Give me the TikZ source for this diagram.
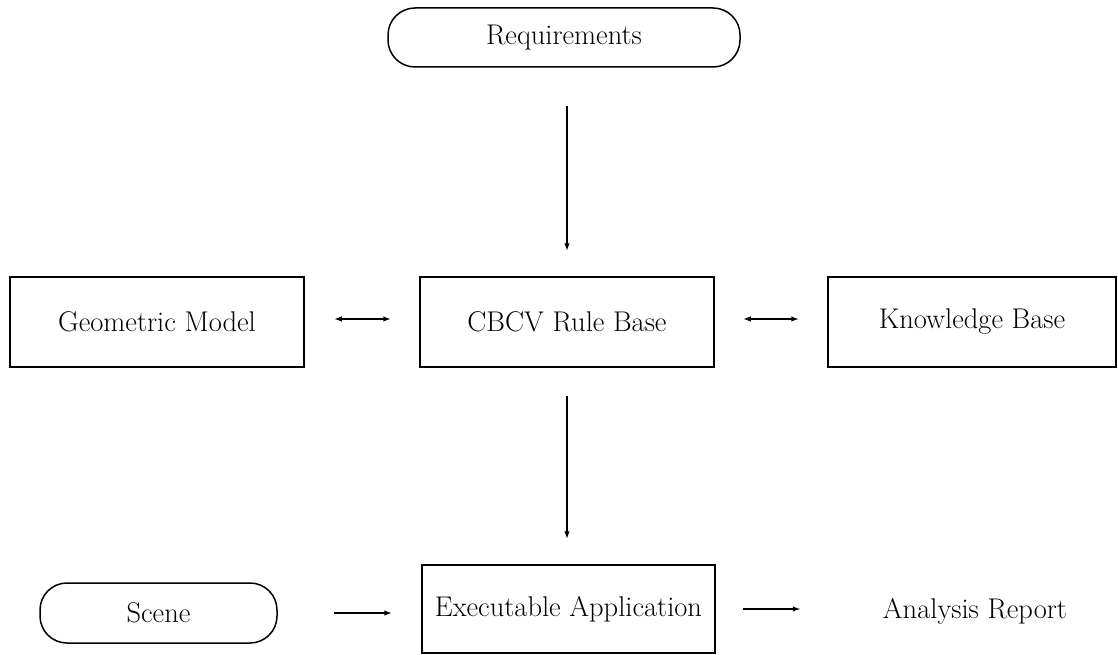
\documentclass[tikz,border=0pt]{standalone}
\usetikzlibrary{arrows.meta}
\begin{document}
\begin{tikzpicture}[x=1pt,y=-1pt,
  every node/.style={font=\fontsize{28.5}{34}\selectfont},
  box/.style={draw,line width=1.5pt,rectangle,inner sep=0pt},
  pill/.style={draw,line width=1.5pt,rectangle,rounded corners=27pt,inner sep=0pt},
  arr/.style={line width=1.6pt,-{Latex[length=8pt,width=5.5pt]}},
  darr/.style={line width=1.6pt,{Latex[length=8pt,width=5.5pt]}-{Latex[length=8pt,width=5.5pt]}}]
\useasboundingbox (0,0) rectangle (1118,655);
\node[pill,minimum width=352pt,minimum height=59pt] (req) at (564,37.5) {Requirements};
\node[box,minimum width=294pt,minimum height=90pt] (cbcv) at (567,322) {CBCV Rule Base};
\node[box,minimum width=294pt,minimum height=90pt] (geo) at (157,322) {Geometric Model};
\node[box,minimum width=288pt,minimum height=90pt] (kb) at (972,322) {Knowledge Base};
\node[box,minimum width=293pt,minimum height=88pt] (exec) at (568.5,609) {Executable Application};
\node[pill,minimum width=237pt,minimum height=60pt] (scene) at (158.5,613) {Scene};
\node[inner sep=0pt] (rep) at (975,611) {Analysis Report};
\draw[arr,shorten <=38pt,shorten >=25pt] (cbcv.north |- req.south) -- (cbcv.north);
\draw[darr,shorten <=29pt,shorten >=28pt] ([yshift=3pt]geo.east) -- ([yshift=3pt]cbcv.west);
\draw[darr,shorten <=28pt,shorten >=28pt] ([yshift=3pt]cbcv.east) -- ([yshift=3pt]kb.west);
\draw[arr,shorten <=28pt,shorten >=25pt] (cbcv.south) -- (cbcv.south |- exec.north);
\draw[arr,shorten <=56pt,shorten >=29pt] (scene.east) -- (scene.east -| exec.west);
\draw[arr,shorten <=27pt,shorten >=82pt] (exec.east) -- (exec.east -| rep.west);
\end{tikzpicture}
\end{document}
